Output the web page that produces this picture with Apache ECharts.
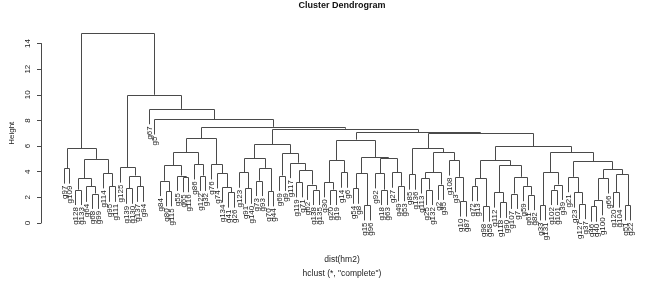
<!DOCTYPE html>
<html>
<head>
<meta charset="utf-8">
<script src="https://cdn.jsdelivr.net/npm/echarts@6/dist/echarts.min.js"></script>
<style>
  html, body { margin: 0; padding: 0; background: #fff; }
  #dendro { width: 669px; height: 286px; }
</style>
</head>
<body>
<div id="dendro"></div>
<script>
// leaf order, left to right
var leaves = ['g97','g109','g128','g133','g64','g68','g99','g114','g95','g111',
  'g125','g139','g130','g137','g94','g67','g5','g84','g80','g115',
  'g55','g65','g116','g86','g122','g32','g76','g74','g134','g41',
  'g26','g123','g91','g140','g73','g93','g70','g44','g69','g9',
  'g117','g119','g71','g62','g138','g135','g30','g20','g19','g14',
  'g6','g54','g8','g15','g96','g92','g18','g63','g27','g49',
  'g53','g85','g136','g113','g25','g132','g2','g35','g108','g3',
  'g10','g87','g72','g13','g98','g58','g112','g118','g90','g107',
  'g7','g59','g61','g82','g33','g131','g102','g101','g39','g21',
  'g23','g127','g37','g46','g40','g100','g66','g120','g104','g51','g22'];

// merges, written as (a,b)height
var leftPart = '((g97,g109)4.27,(((g128,g133)2.6,(g64,(g68,g99)2.3)2.85)3.5,(g114,(g95,g111)2.85)3.9)5.0)5.84';
var c11 = '(g125,((g139,g130)2.7,(g137,g94)2.85)3.7)4.35';
var q1 = '(((g84,(g80,g115)2.5)3.3,(g55,(g65,g116)3.6)3.7)4.5,(g86,(g122,g32)3.7)4.6)5.5';
var q2 = '(g76,(g74,(g134,(g41,g26)2.4)2.8)3.9)4.6';
var w1 = '(((g123,(g91,g140)2.7)3.95,((g73,g93)3.3,(g70,g44)2.5)4.3)5.05,' +
         '((g69,g9)3.7,(g117,((g119,g71)3.2,(g62,(g138,g135)2.6)3.0)4.1)4.7)5.45)6.15';
var v1 = '(((g30,(g20,g19)2.6)3.2,(g14,g6)3.95)4.9,' +
         '(((g54,g8)2.7,(g15,g96)1.4)3.9,((g92,(g18,g63)2.6)3.9,(g27,(g49,g53)2.9)3.95)5.05)5.15)6.5';
var v2a = '((g85,g136)3.8,(((g113,(g25,g132)2.6)3.5,(g2,g35)3.0)3.95,(g108,(g3,(g10,g87)1.7)3.6)4.9)5.5)5.85';
var v2bLeft = '(((g72,g13)2.9,(g98,g58)1.3)3.5,((g112,(g118,g90)1.6)2.4,((g107,g7)2.3,(g59,(g61,g82)2.2)2.9)3.6)4.5)4.9';
var v2bRight = '(((g33,g131)1.4,((g102,g101)2.6,g39)3.0)3.95,' +
         '((g21,(g23,(g127,g37)1.5)2.4)3.6,((((g46,g40)1.3,g100)1.8,g66)3.5,((g120,g104)2.4,(g51,g22)1.4)3.8)4.2)4.8)5.5';

var tree = '(' + leftPart + ',(' + c11 + ',(g67,(g5,((' + q1 + ',' + q2 + ')6.6,(' + w1 + ',(' + v1 + ',(' + v2a +
  ',(' + v2bLeft + ',' + v2bRight + ')6.0)7.0)7.1)7.35)7.5)8.1)8.9)10.0)14.8';

var hang = 1.2;
var yTicks = [0, 2, 4, 6, 8, 10, 12, 14];

function parseTree(s) {
  var i = 0;
  function node() {
    if (s[i] === '(') {
      i++;
      var a = node();
      i++;
      var b = node();
      i++;
      var m = /^[\d.]+/.exec(s.slice(i));
      i += m[0].length;
      return { h: +m[0], kids: [a, b] };
    }
    var t = /^[^,()]+/.exec(s.slice(i));
    i += t[0].length;
    return { label: t[0] };
  }
  return node();
}

var root = parseTree(tree);
var links = [];
var leafMarks = [];

function place(nd) {
  if (nd.label) {
    nd.x = leaves.indexOf(nd.label) + 1;
    return;
  }
  place(nd.kids[0]);
  place(nd.kids[1]);
  nd.x = (nd.kids[0].x + nd.kids[1].x) / 2;
  var ends = nd.kids.map(function (k) {
    if (k.label) {
      leafMarks.push([k.x, nd.h - hang, k.label]);
      return nd.h - hang;
    }
    return k.h;
  });
  links.push([nd.kids[0].x, nd.kids[1].x, nd.h, ends[0], ends[1]]);
}
place(root);

var font = 'Liberation Sans, Arial, sans-serif';
var lineCol = '#4a4a4a';
var myChart = echarts.init(document.getElementById('dendro'));

function px(v) { return Math.round(v) + 0.5; }

var option = {
  animation: false,
  backgroundColor: '#fff',
  grid: { left: 32, top: 43.5, width: 621, height: 179.5 },
  xAxis: { type: 'value', min: -3, max: leaves.length + 4, show: false },
  yAxis: {
    type: 'value', min: 0, max: 14, interval: 2,
    name: 'Height', nameLocation: 'middle', nameGap: 25, nameRotate: 90,
    nameMoveOverlap: false,
    nameTextStyle: { fontSize: 8, color: '#222', fontFamily: font },
    axisLine: { show: true, onZero: false, lineStyle: { color: lineCol, width: 1 } },
    axisTick: { show: true, length: 4, lineStyle: { color: lineCol } },
    axisLabel: {
      rotate: 90, fontSize: 8, color: '#222', fontFamily: font, margin: 9,
      formatter: function (v) { return yTicks.indexOf(v) >= 0 ? String(v) : ''; }
    },
    splitLine: { show: false }
  },
  graphic: [
    { type: 'text', x: 342, y: 6, style: { text: 'Cluster Dendrogram', align: 'center', verticalAlign: 'middle',
      font: 'bold 9px ' + font, fill: '#111' } },
    { type: 'text', x: 342, y: 260, style: { text: 'dist(hm2)', align: 'center', verticalAlign: 'middle',
      font: '8.5px ' + font, fill: '#222' } },
    { type: 'text', x: 342, y: 274, style: { text: 'hclust (*, "complete")', align: 'center', verticalAlign: 'middle',
      font: '8.5px ' + font, fill: '#222' } }
  ],
  series: [
    {
      type: 'custom',
      name: 'links',
      clip: false,
      encode: { x: [0, 1], y: [2, 3, 4] },
      data: links,
      renderItem: function (params, api) {
        var xl = api.value(0), xr = api.value(1), h = api.value(2);
        var a = api.coord([xl, api.value(3)]);
        var b = api.coord([xl, h]);
        var c = api.coord([xr, h]);
        var d = api.coord([xr, api.value(4)]);
        return {
          type: 'polyline',
          shape: { points: [[px(a[0]), a[1]], [px(b[0]), px(b[1])], [px(c[0]), px(c[1])], [px(d[0]), d[1]]] },
          style: { stroke: lineCol, lineWidth: 1, fill: null }
        };
      }
    },
    {
      type: 'custom',
      name: 'labels',
      clip: false,
      encode: { x: 0, y: 1 },
      data: leafMarks.map(function (m) { return [m[0], m[1]]; }),
      renderItem: function (params, api) {
        var p = api.coord([api.value(0), api.value(1)]);
        return {
          type: 'text',
          x: px(p[0]),
          y: p[1] + 2,
          rotation: Math.PI / 2,
          style: {
            text: leafMarks[params.dataIndex][2],
            align: 'right', verticalAlign: 'middle',
            font: '8px ' + font, fill: '#222'
          }
        };
      }
    }
  ]
};

option && myChart.setOption(option);
</script>
</body>
</html>
